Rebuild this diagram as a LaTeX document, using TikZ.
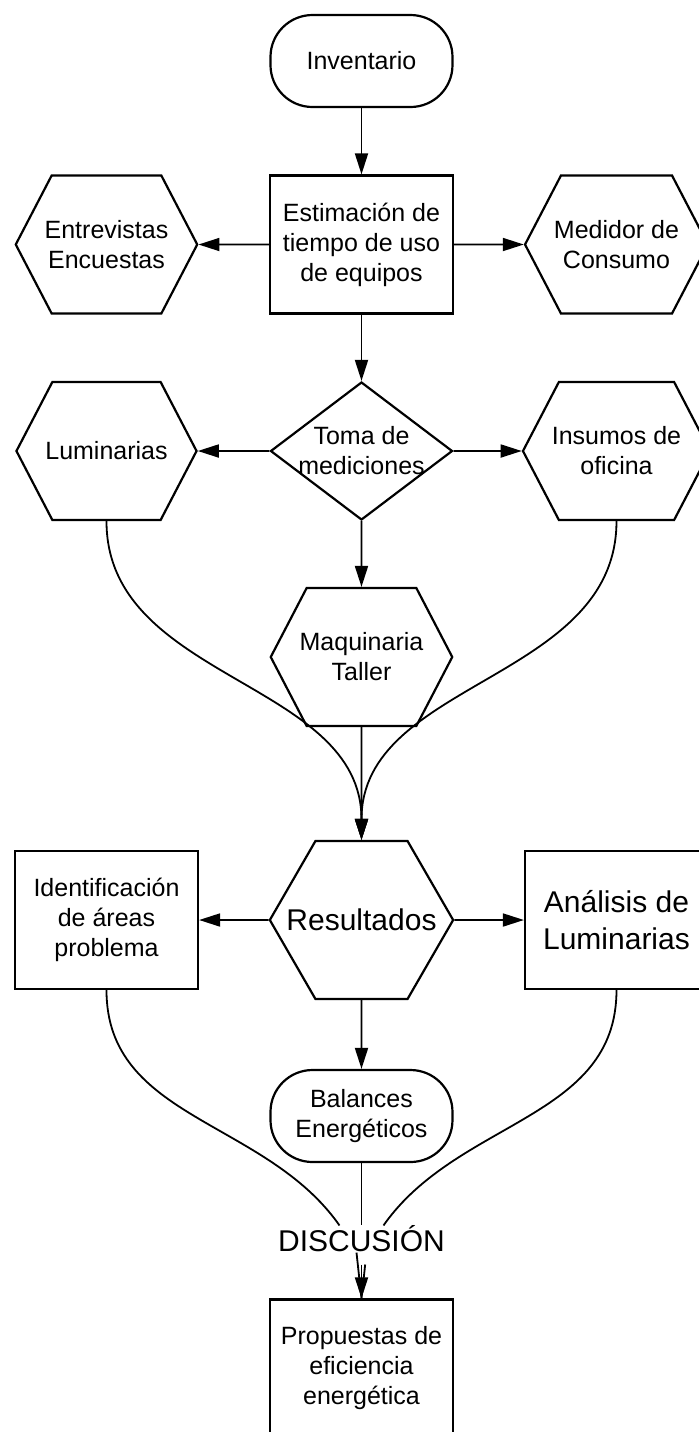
\documentclass[tikz,border=0pt]{standalone}
\usepackage{fontspec}
\setmainfont{Liberation Sans}
\usetikzlibrary{positioning, shapes.geometric, shapes.symbols, arrows.meta}
\newcommand{\txt}{\fontsize{12.5}{15}\selectfont}
\newcommand{\bigtxt}{\fontsize{15}{18.5}\selectfont}
\tikzset{
on grid, % node distances are taken centre to centre
every node/.style={align=center, font=\txt}, % centred lines of text
base/.style={draw, line width=1.1pt, inner sep=0pt}, % common border
box/.style={base, rectangle, minimum width=91.5pt, minimum height=69pt}, % process step
term/.style={base, rectangle, rounded corners=21pt, minimum width=91pt, minimum height=46pt}, % start / sub result
hexa/.style={base, signal, signal to=east and west, signal pointer angle=125, inner xsep=-3.5pt, minimum height=69pt}, % data source
decision/.style={base, diamond, aspect=1.32, inner sep=-3pt, minimum width=91pt, minimum height=69pt}, % measuring step
link/.style={line width=0.9pt}, % connectors
}

\begin{document}
\begin{tikzpicture}[>={Triangle[length=10.5pt,width=6.5pt]}]
        \useasboundingbox (-180.75pt,30.5pt) rectangle (168.75pt,-685.5pt);
        \clip (-180.75pt,30.5pt) rectangle (168.75pt,-685.5pt);

        \node[term] (inv) {Inventario};
        \node[box, below=91.75pt of inv] (est) {Estimación de\\tiempo de uso\\de equipos};
        \node[hexa, left=127.5pt of est] (ent) {Entrevistas\\Encuestas};
        \node[hexa, right=127.5pt of est] (med) {Medidor de\\Consumo};
        \node[decision, below=103.25pt of est] (tom) {Toma de\\mediciones};
        \node[hexa, left=127.5pt of tom] (lum) {Luminarias};
        \node[hexa, right=127.5pt of tom] (ins) {Insumos de\\oficina};
        \node[hexa, below=103pt of tom] (maq) {Maquinaria\\Taller};
        \node[hexa, signal pointer angle=120, inner xsep=-14.5pt, minimum height=79pt, font=\bigtxt, below=131.5pt of maq] (res) {Resultados};
        \node[box, left=127.5pt of res] (ide) {Identificación\\de áreas\\problema};
        \node[box, font=\bigtxt, right=127.5pt of res] (ana) {Análisis de\\Luminarias};
        \node[term, below=98pt of res] (bal) {Balances\\Energéticos};
        \node[inner sep=0pt, font=\bigtxt, below=61.5pt of bal] (disc) {DISCUSIÓN};
        \node[box, below=64.75pt of disc] (prop) {Propuestas de\\eficiencia\\energética};

        \draw[->, link] (inv) edge (est)
              (est) edge (ent)
              (est) edge (med)
              (est) edge (tom)
              (tom) edge (lum)
              (tom) edge (ins)
              (tom) edge (maq)
              (maq) edge (res)
              (res) edge (ide)
              (res) edge (ana)
              (res) edge (bal)
              ;

        % branches joining into the results
        \draw[->, link] (lum.south) to[out=-90, in=90] (res.north);
        \draw[->, link] (ins.south) to[out=-90, in=90] (res.north);

        % branches joining into the discussion
        \draw[link] (ide.south) to[out=-90, in=125] ([xshift=-11pt]disc.north);
        \draw[link] (ana.south) to[out=-90, in=55] ([xshift=11pt]disc.north);
        \draw[link] (bal) -- (disc);

        \draw[link, shorten <=6pt] ([xshift=-2.5pt]disc.south) -- (prop.north)
              ([xshift=2.5pt]disc.south) -- (prop.north);
        \draw[->, link, shorten <=6pt] (disc) -- (prop);
\end{tikzpicture}
\end{document}
